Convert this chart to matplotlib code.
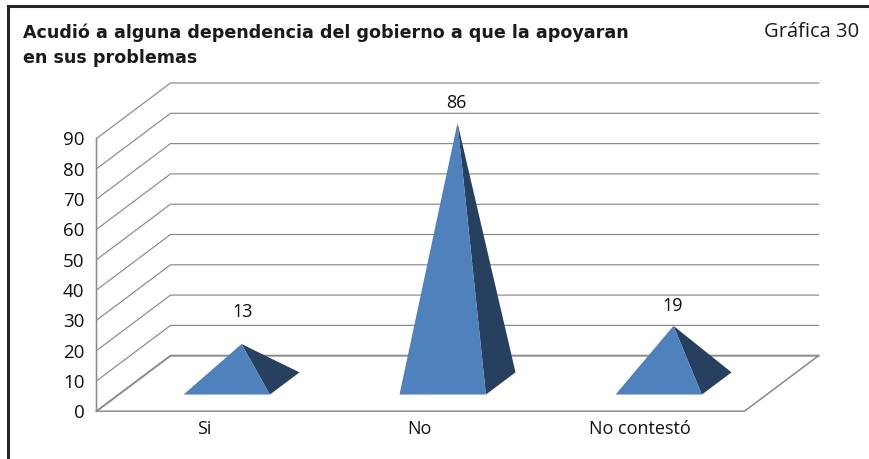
"""Pyramid chart with a fake 3D box, redrawn by hand on a pixel-sized axes."""

import matplotlib
matplotlib.use("Agg")
import matplotlib.pyplot as plt
from matplotlib.patches import Polygon

categories = ["Si", "No", "No contestó"]
values = [13, 86, 19]
y_ticks = [0, 10, 20, 30, 40, 50, 60, 70, 80, 90]

title_lines = "Acudió a alguna dependencia del gobierno a que la apoyaran\nen sus problemas"
chart_number = "Gráfica 30"

GRID_COLOR = "#8a8a8a"
FRONT_COLOR = "#4f81bd"
SIDE_COLOR = "#27405f"
TEXT_COLOR = "#111111"

# Oblique projection of the box, in image pixels
X0, Y0 = 96.5, 412.2
CAT_W = 216
PX_PER_UNIT = 3.03
DEPTH_X, DEPTH_Y = 74, 55.5


def project(cat, value, depth):
    """cat in category units, value in data units, depth from 0 (front) to 1 (back)."""
    return (X0 + CAT_W * cat + DEPTH_X * depth, Y0 - PX_PER_UNIT * value - DEPTH_Y * depth)


fig = plt.figure(figsize=(8.69, 4.6), dpi=100)
ax = fig.add_axes([0, 0, 1, 1])
ax.set_xlim(0, 869)
ax.set_ylim(460, 0)
ax.axis("off")
plt.rcParams["font.family"] = ["Open Sans", "DejaVu Sans"]

n_cats = len(categories)

# Page frame, only top and left are in the crop
ax.plot([7.5, 7.5, 869], [460, 6.5, 6.5], color="#262626", lw=2.2, solid_joinstyle="miter")

ax.text(23, 45.5, title_lines, fontsize=12.6, fontweight="bold", color="#1a1a1a",
        va="center", ha="left", linespacing=1.5, family=["DejaVu Sans"])
ax.text(859, 32, chart_number, fontsize=14.5, color="#1a1a1a", va="center", ha="right")

# Wall grid lines
for tick in y_ticks:
    pts = [project(0, tick, 0), project(0, tick, 1), project(n_cats, tick, 1)]
    lw = 1.4 if tick == 0 else 0.85
    ax.plot([p[0] for p in pts], [p[1] for p in pts], color=GRID_COLOR, lw=lw, zorder=1)
    ax.text(X0 - 12, project(0, tick, 0)[1] + 1, str(tick), fontsize=13.5, color=TEXT_COLOR,
            ha="right", va="center")

# Left axis and floor edges
pts = [project(0, y_ticks[-1], 0), project(0, 0, 0), project(n_cats, 0, 0), project(n_cats, 0, 1)]
ax.plot([p[0] for p in pts], [p[1] for p in pts], color=GRID_COLOR, lw=1.1, zorder=1)

# Pyramids
half = 0.2
label_gaps = [33, 21, 21]
value_shifts = [1, -1, -1]
label_shifts = [0, -1, 3]
for i, (name, val) in enumerate(zip(categories, values)):
    cat = i + 0.5
    apex = project(cat, val, 0.5)
    front_l = project(cat - half, 0, 0.5 - 0.2)
    front_r = project(cat + half, 0, 0.5 - 0.2)
    back_r = project(cat + half, 0, 0.5 + 0.2)
    ax.add_patch(Polygon([apex, front_r, back_r], closed=True, facecolor=SIDE_COLOR,
                         edgecolor="none", zorder=3))
    ax.add_patch(Polygon([apex, front_l, front_r], closed=True, facecolor=FRONT_COLOR,
                         edgecolor="none", zorder=4))
    ax.text(apex[0] + value_shifts[i], apex[1] - label_gaps[i], str(val), fontsize=13,
            color=TEXT_COLOR, ha="center", va="center", zorder=5)
    ax.text(project(cat, 0, 0)[0] + label_shifts[i], 429.5, name, fontsize=13, color=TEXT_COLOR,
            ha="center", va="center")

fig.savefig("out.png", dpi=100)
plt.close(fig)
